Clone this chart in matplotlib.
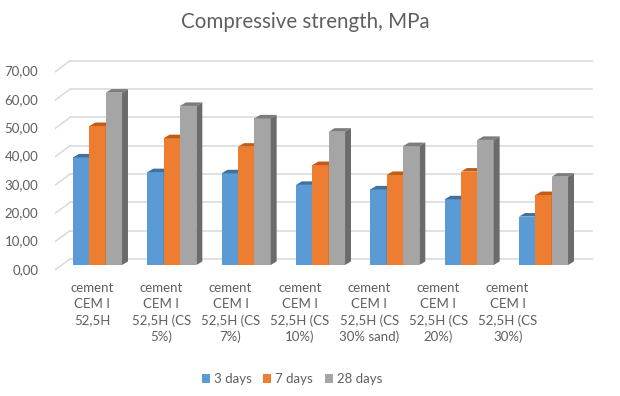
import textwrap
import numpy as np
import matplotlib
matplotlib.use("Agg")
import matplotlib.pyplot as plt
from matplotlib.patches import Polygon, Patch

plt.rcParams['font.family'] = ['Lato', 'DejaVu Sans']

categories = [
    "cement CEM I 52,5H",
    "cement CEM I 52,5H (CS 5%)",
    "cement CEM I 52,5H (CS 7%)",
    "cement CEM I 52,5H (CS 10%)",
    "cement CEM I 52,5H (CS 30% sand)",
    "cement CEM I 52,5H (CS 20%)",
    "cement CEM I 52,5H (CS 30%)",
]
days3 = [38.0, 32.8, 32.4, 28.3, 26.7, 23.2, 17.1]
days7 = [49.1, 44.8, 41.8, 35.3, 31.8, 33.0, 24.7]
days28 = [60.9, 56.2, 51.8, 47.1, 42.0, 44.2, 31.2]
series_names = ["3 days", "7 days", "28 days"]
yticks = [0, 10, 20, 30, 40, 50, 60, 70]

# front, top and side colours for each series
front = ["#5b9bd5", "#ed7d31", "#a5a5a5"]
top = ["#41719c", "#c25b15", "#7c7c7c"]
side = ["#3f6e99", "#ae5a21", "#6b6b6b"]
text_c = "#5f5f5f"
grid_c = "#d9d9d9"

fig = plt.figure(figsize=(6.2, 3.96), dpi=100)
ax = fig.add_axes([55 / 620, 126 / 396, 545 / 620, 220 / 396])
ax.set_xlim(-0.572, 6.76)
ax.set_ylim(-1.77, 75.97)
for s in ax.spines.values():
    s.set_visible(False)

# fake 3d: depth offsets in data units
bar_w = 0.22
dx, dy = 0.08, 1.25           # bar depth
back_dy = 2.12                # back wall above bar plane
front_dy = -1.77              # front edge below bar plane
x_front, x_back, x_right = -0.572, -0.37, 6.653

# gridlines on the back wall and the slanted side wall
for t in yticks:
    ax.plot([x_back, x_right], [t + back_dy, t + back_dy], color=grid_c, lw=1.1, zorder=0)
    ax.plot([x_front, x_back], [t + front_dy, t + back_dy], color=grid_c, lw=1.1, zorder=0)

x = np.arange(len(categories))
offsets = [-bar_w, 0, bar_w]
for j, vals in enumerate([days3, days7, days28]):
    xs = x + offsets[j]
    ax.bar(xs, vals, width=bar_w, color=front[j], zorder=2 + j * 3, label=series_names[j])
    for xc, v in zip(xs, vals):
        x0, x1 = xc - bar_w / 2, xc + bar_w / 2
        ax.add_patch(Polygon([(x0, v), (x1, v), (x1 + dx, v + dy), (x0 + dx, v + dy)],
                             closed=True, facecolor=top[j], edgecolor='none', zorder=3 + j * 3))
        ax.add_patch(Polygon([(x1, 0), (x1 + dx, dy), (x1 + dx, v + dy), (x1, v)],
                             closed=True, facecolor=side[j], edgecolor='none', zorder=3 + j * 3))

# y labels sit on the front edge of the side wall
ax.set_yticks([t - 1.3 for t in yticks],
              labels=[f"{t:.2f}".replace('.', ',') for t in yticks])
label_x = -0.074 + 0.932 * x
ax.set_xticks(label_x, labels=[textwrap.fill(c, 9) for c in categories])
ax.tick_params(axis='y', length=0, pad=12, labelsize=9.5, labelcolor=text_c)
ax.tick_params(axis='x', length=0, pad=9, labelsize=9.5, labelcolor=text_c)
for lab in ax.get_xticklabels():
    lab.set_linespacing(1.38)

fig.text(305 / 620, 1 - 22 / 396, "Compressive strength, MPa", ha='center', va='center',
         fontsize=14.8, color=text_c)

handles = [Patch(facecolor=c) for c in front]
fig.legend(handles, series_names, loc='center', bbox_to_anchor=(292 / 620, 1 - 379 / 396),
           ncol=3, frameon=False, fontsize=9.5, labelcolor=text_c,
           handlelength=0.6, handleheight=0.6, handletextpad=0.3, columnspacing=0.9)

fig.savefig("out.png", dpi=100)
